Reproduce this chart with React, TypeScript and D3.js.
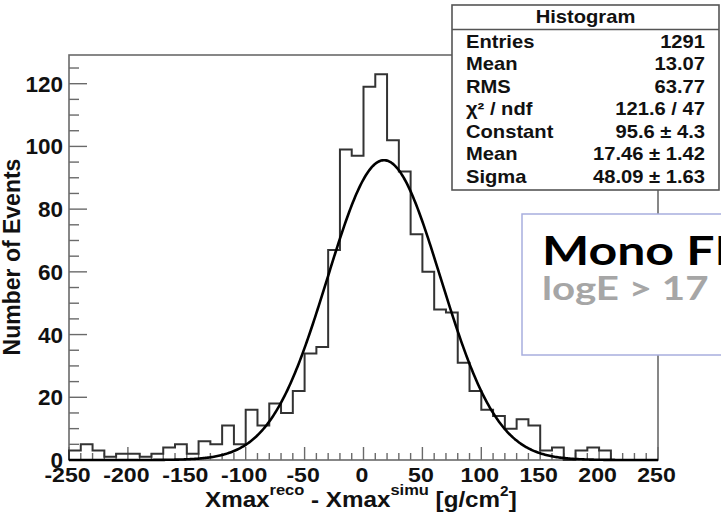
import React from "react";
import * as d3 from "d3";

const binLow = -250;
const binWidth = 10;
const counts = [
  3, 5, 3, 1, 2, 2, 1, 2, 4, 5,
  2, 6, 5, 11, 5, 16, 11, 18, 15, 22,
  34, 36, 67, 99, 97, 119, 123, 102, 92, 72,
  60, 48, 47, 31, 22, 16, 14, 10, 13, 11,
  3, 4, 0, 3, 4, 3, 0, 0, 0, 0,
];
const fitConstant = 95.6;
const fitMean = 17.46;
const fitSigma = 48.09;
const xTicks = [-250, -200, -150, -100, -50, 0, 50, 100, 150, 200, 250];
const yTicks = [0, 20, 40, 60, 80, 100, 120];
const statLabels = ["Entries", "Mean", "RMS", "χ² / ndf", "Constant", "Mean", "Sigma"];
const statValues = ["1291", "13.07", "63.77", "121.6 / 47", "95.6 ± 4.3", "17.46 ± 1.42", "48.09 ± 1.63"];

const W = 721;
const H = 512;
const FONT = "'Liberation Sans', Arial, Helvetica, sans-serif";
const CAL = "Lato, 'Open Sans', sans-serif";

export default function App() {
  const x = d3.scaleLinear().domain([-250, 250]).range([69, 658]);
  const y = d3.scaleLinear().domain([0, 129.15]).range([460, 55]);

  const pts: [number, number][] = [];
  pts.push([x(binLow), y(0)]);
  counts.forEach((c, i) => {
    const x0 = binLow + i * binWidth;
    pts.push([x(x0), y(c)]);
    pts.push([x(x0 + binWidth), y(c)]);
  });
  pts.push([x(binLow + counts.length * binWidth), y(0)]);
  const histPath = d3.line()(pts) || "";

  const fitPts: [number, number][] = d3.range(-250, 250.01, 1).map((v) => [
    x(v),
    y(fitConstant * Math.exp(-0.5 * ((v - fitMean) / fitSigma) ** 2)),
  ]);
  const fitPath = d3.line()(fitPts) || "";

  const xMinor = d3.range(-250, 250.01, 10);
  const yMinor = d3.range(0, 129, 5);
  const axisColor = "#6a6a6a";
  const sx = 1.12;

  return (
    <svg width={W} height={H} style={{ position: "absolute", left: 0, top: 0, background: "#fff" }}>
      <rect x={0} y={0} width={W} height={H} fill="#fff" />
      <rect x={69} y={55} width={589} height={405} fill="none" stroke={axisColor} strokeWidth={1.6} />
      {yMinor.map((v) => (
        <line key={"ym" + v} x1={69} x2={v % 20 === 0 ? 87 : 79} y1={y(v)} y2={y(v)} stroke={axisColor} strokeWidth={1.4} />
      ))}
      {xMinor.map((v) => (
        <line key={"xm" + v} x1={x(v)} x2={x(v)} y1={460} y2={v % 50 === 0 ? 447 : 453} stroke={axisColor} strokeWidth={1.4} />
      ))}
      <path d={histPath} fill="none" stroke="#333" strokeWidth={2} />
      <path d={fitPath} fill="none" stroke="#000" strokeWidth={2.6} />
      {yTicks.map((v) => (
        <text key={"yl" + v} x={63} y={y(v) + 8} textAnchor="end" fontFamily={FONT} fontWeight="bold" fontSize={22.5} fill="#111">
          {v}
        </text>
      ))}
      {xTicks.map((v) => (
        <text key={"xl" + v} transform={`translate(${x(v) - 1.5},482) scale(1.1,1)`} textAnchor="middle" fontFamily={FONT} fontWeight="bold" fontSize={21} fill="#111">
          {v}
        </text>
      ))}
      <text transform="translate(205,507) scale(1.1,1)" fontFamily={FONT} fontWeight="bold" fontSize={22} fill="#111">
        Xmax<tspan dy={-12} fontSize={15}>reco</tspan>
        <tspan dy={12}> - Xmax</tspan>
        <tspan dy={-12} fontSize={15}>simu</tspan>
        <tspan dy={12}> [g/cm</tspan>
        <tspan dy={-11} fontSize={14}>2</tspan>
        <tspan dy={11}>]</tspan>
      </text>
      <text transform="translate(20,257) rotate(-90)" textAnchor="middle" fontFamily={FONT} fontWeight="bold" fontSize={23} fill="#111">
        Number of Events
      </text>
      {/* stats box */}
      <rect x={452} y={5} width={267} height={185} fill="#fff" stroke="#555" strokeWidth={1.6} />
      <line x1={452} x2={719} y1={29.5} y2={29.5} stroke="#555" strokeWidth={1.6} />
      <text transform={`translate(585.5,23) scale(${sx},1)`} textAnchor="middle" fontFamily={FONT} fontWeight="bold" fontSize={18} fill="#111">
        Histogram
      </text>
      {statLabels.map((l, i) => (
        <text key={"sl" + i} transform={`translate(466,${47.5 + i * 22.5}) scale(${sx},1)`} fontFamily={FONT} fontWeight="bold" fontSize={18} fill="#111">
          {l}
        </text>
      ))}
      {statValues.map((l, i) => (
        <text key={"sv" + i} transform={`translate(705,${47.5 + i * 22.5}) scale(${sx},1)`} textAnchor="end" fontFamily={FONT} fontWeight="bold" fontSize={18} fill="#111">
          {l}
        </text>
      ))}
      {/* Mono FD box */}
      <rect x={522} y={214} width={260} height={141} fill="#fff" stroke="#a8aede" strokeWidth={1.5} />
      <text transform="translate(542,265) scale(1.25,1)" fontFamily={CAL} fontWeight="bold" fontSize={40} fill="#000">
        Mono FD
      </text>
      <text transform="translate(542,300) scale(1.22,1)" fontFamily={CAL} fontWeight="bold" fontSize={33} fill="#a6a6a6">
        logE &gt; 17
      </text>
    </svg>
  );
}
